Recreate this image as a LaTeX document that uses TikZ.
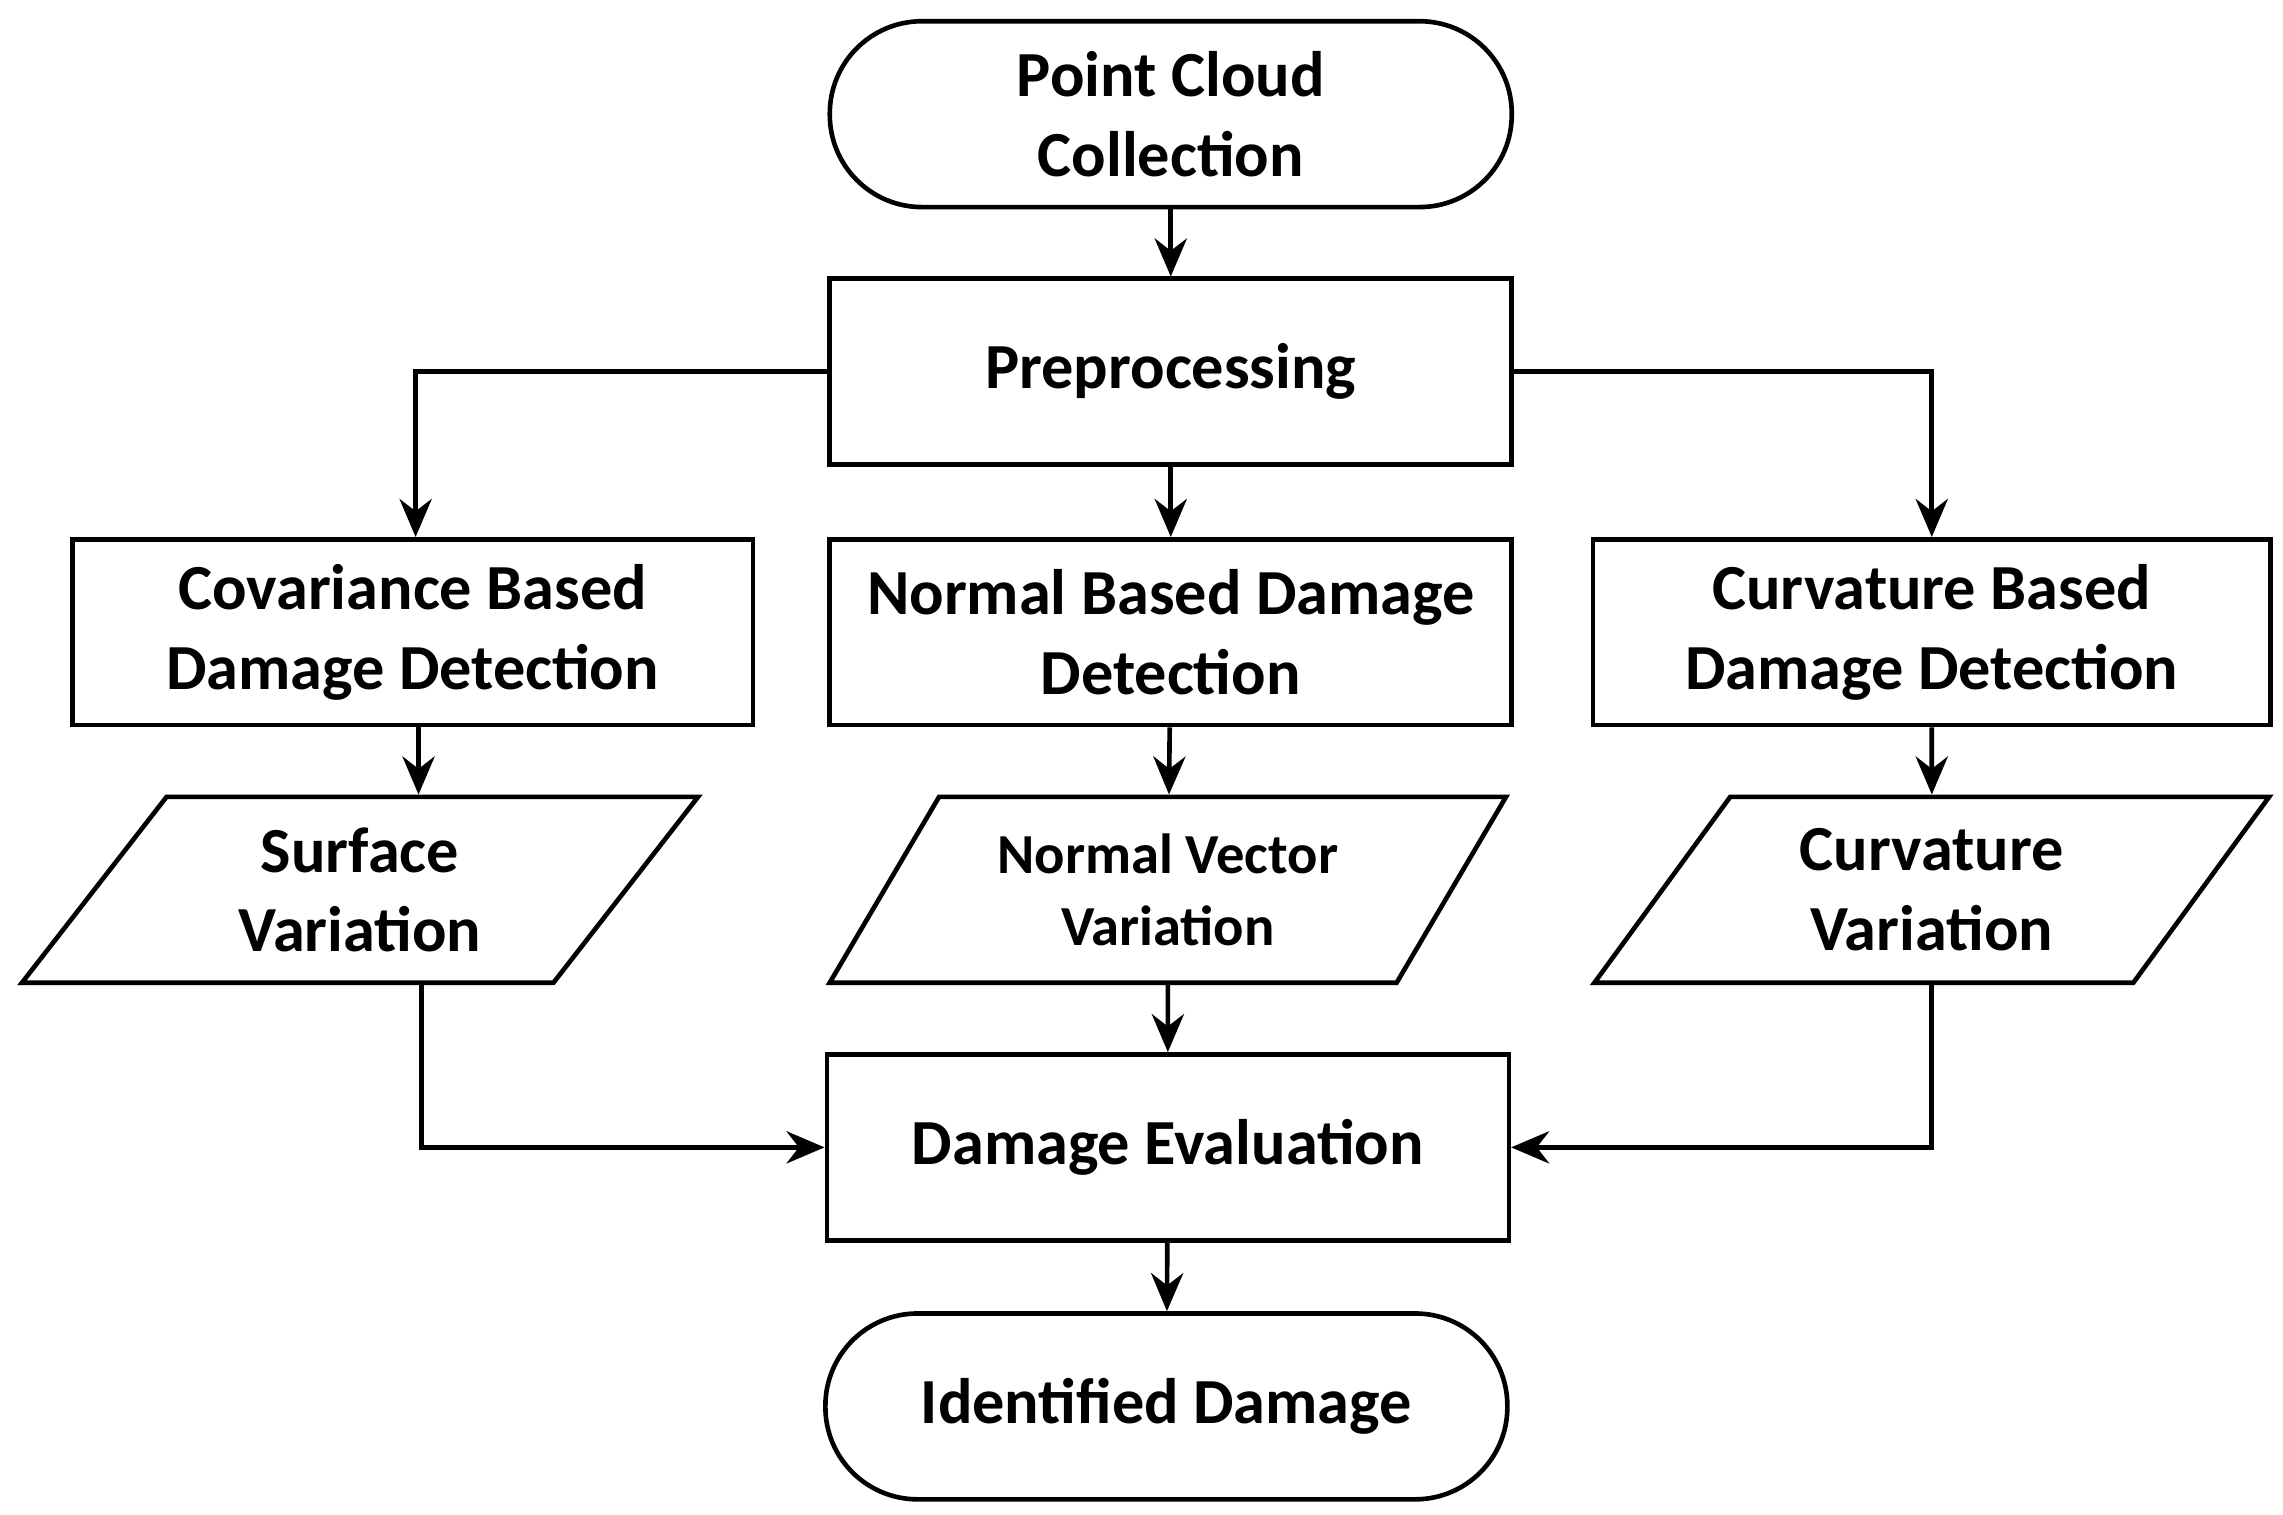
\documentclass[tikz,border=0pt]{standalone}
\usepackage{fontspec}
\setmainfont{Carlito}
\usetikzlibrary{shapes.geometric,arrows.meta}
\begin{document}
\begin{tikzpicture}[x=0.1mm,y=-0.1mm,
  base/.style={draw,line width=0.9pt,align=center,font=\fontsize{12.5}{15.5}\selectfont\bfseries,inner sep=0pt},
  box/.style={base,minimum width=46.6mm,minimum height=12.7mm},
  term/.style={box,rounded corners=6.3mm},
  para/.style={base,trapezium,trapezium stretches=true,trapezium left angle=54,trapezium right angle=126,minimum width=46.3mm,minimum height=12.7mm},
  arr/.style={line width=0.9pt,-{Stealth[length=2.6mm,width=2.2mm]}}]
\useasboundingbox (0,0) rectangle (1560,1035);
\node[term] (pc) at (800,78) {Point Cloud\\Collection};
\node[box] (pre) at (800,254) {Preprocessing};
\node[box,minimum width=46.5mm] (cov) at (282,432) {Covariance Based\\Damage Detection};
\node[box] (nor) at (800,432) {Normal Based Damage\\Detection};
\node[box,minimum width=46.3mm] (cur) at (1320,432) {Curvature Based\\Damage Detection};
\node[para] (sv) at (246,608) {Surface\\Variation};
\node[para,font=\fontsize{11}{14}\selectfont\bfseries] (nv) at (798,608) {Normal Vector\\Variation};
\node[para] (cv) at (1320,608) {Curvature\\Variation};
\node[box] (de) at (798,784) {Damage Evaluation};
\node[term] (id) at (797,961) {Identified Damage};
\draw[arr] (pc) -- (pre);
\draw[arr] (pre.west) -| (cov.north -| 284,0);
\draw[arr] (pre.east) -| (cur.north);
\draw[arr] (pre) -- (nor);
\draw[arr] (cov.south -| 286,0) -- (sv.north -| 286,0);
\draw[arr] (nor) -- (nv);
\draw[arr] (cur) -- (cv);
\draw[arr] (nv) -- (de);
\draw[arr] (sv.south -| 288,0) |- (de.west);
\draw[arr] (cv.south) |- (de.east);
\draw[arr] (de) -- (id);
\end{tikzpicture}
\end{document}
